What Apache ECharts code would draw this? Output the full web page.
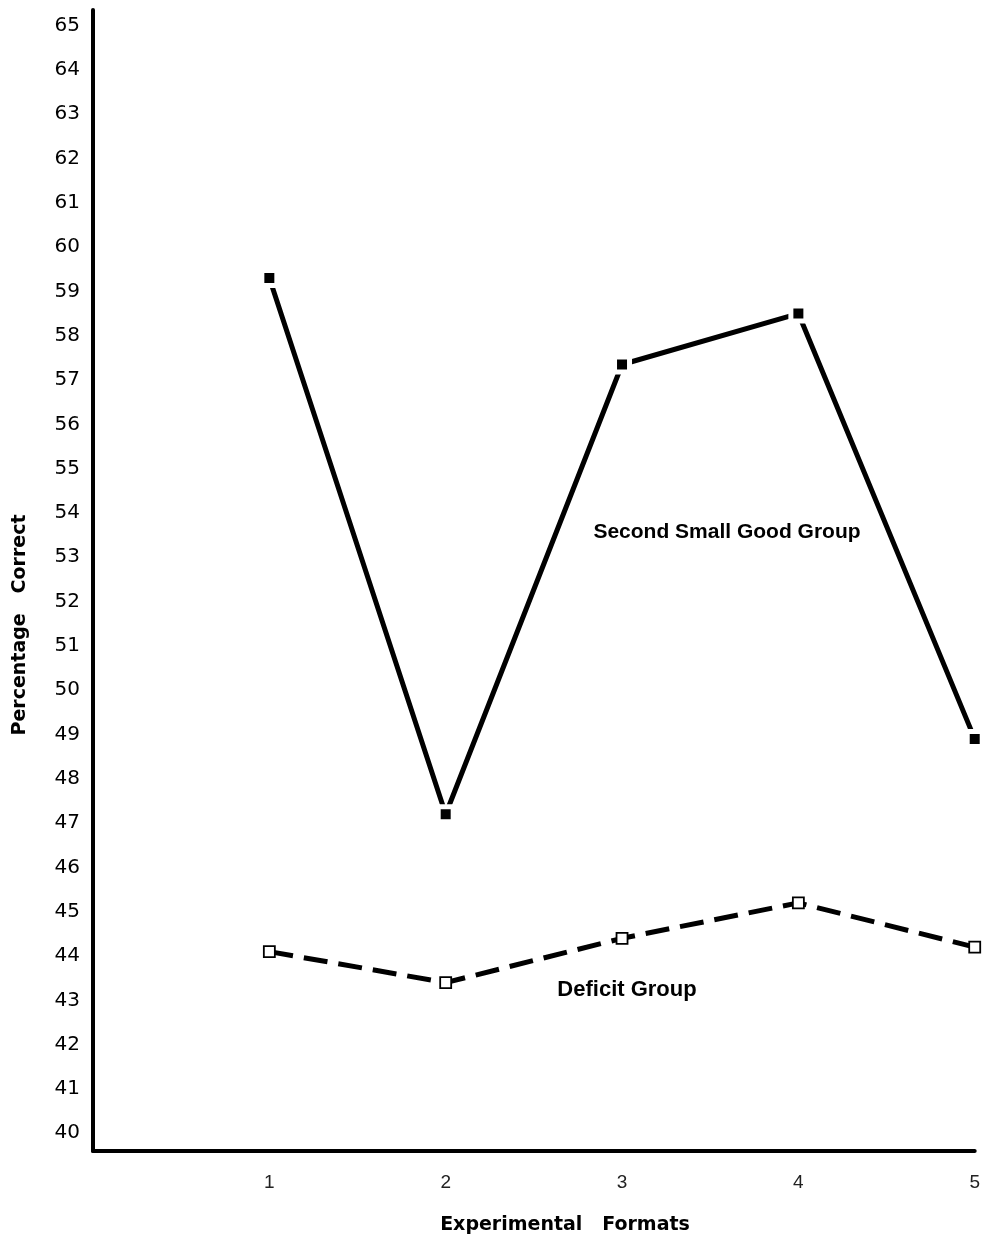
<!DOCTYPE html>
<html>
<head>
<meta charset="utf-8">
<script src="https://cdn.jsdelivr.net/npm/echarts@6/dist/echarts.min.js"></script>
<style>
html,body{margin:0;padding:0;background:#fff;}
#chart{width:983px;height:1241px;}
</style>
</head>
<body>
<div id="chart"></div>
<script>
const formats = [1, 2, 3, 4, 5];
const goodGroup = [59.3, 47.2, 57.35, 58.5, 48.9];
const deficitGroup = [44.1, 43.4, 44.4, 45.2, 44.2];
const yTicks = [40,41,42,43,44,45,46,47,48,49,50,51,52,53,54,55,56,57,58,59,60,61,62,63,64,65];
const xTicks = [1, 2, 3, 4, 5];
const goodLabel = 'Second Small Good Group';
const deficitLabel = 'Deficit Group';
const xName = 'Experimental   Formats';
const yName = 'Percentage   Correct';

const FONT = '"Liberation Sans", Arial, Helvetica, sans-serif';
const WIDE = '"DejaVu Sans", "Liberation Sans", sans-serif';
const chart = echarts.init(document.getElementById('chart'), null, {renderer: 'canvas'});

const option = {
  backgroundColor: '#fff',
  animation: false,
  grid: {left: 93, right: 8, top: 10, bottom: 90, containLabel: false},
  xAxis: {
    type: 'value',
    min: 0, max: 5,
    axisLine: {show: true, onZero: false, lineStyle: {color: '#000', width: 4}},
    axisTick: {show: false},
    splitLine: {show: false},
    axisLabel: {
      customValues: xTicks,
      color: '#222', fontFamily: FONT, fontSize: 19, margin: 22,
      formatter: v => String(v)
    }
  },
  yAxis: {
    type: 'value',
    min: 39.6, max: 65.35,
    axisLine: {show: true, onZero: false, lineStyle: {color: '#000', width: 4}},
    axisTick: {show: false},
    splitLine: {show: false},
    axisLabel: {
      customValues: yTicks,
      color: '#000', fontFamily: WIDE, fontSize: 20, margin: 13,
      formatter: v => String(Math.round(v))
    }
  },
  graphic: [
    {type: 'text', x: 565, y: 1225, style: {text: xName, font: 'bold 19px ' + WIDE, fill: '#000', textAlign: 'center', textVerticalAlign: 'middle'}},
    {type: 'text', x: 20, y: 625, rotation: Math.PI / 2, style: {text: yName, font: 'bold 19px ' + WIDE, fill: '#000', textAlign: 'center', textVerticalAlign: 'middle'}},
    {type: 'text', x: 727, y: 532, style: {text: goodLabel, font: 'bold 21px ' + FONT, fill: '#000', textAlign: 'center', textVerticalAlign: 'middle'}},
    {type: 'text', x: 627, y: 990, style: {text: deficitLabel, font: 'bold 22px ' + FONT, fill: '#000', textAlign: 'center', textVerticalAlign: 'middle'}}
  ],
  series: [
    {
      name: goodLabel,
      type: 'line',
      data: formats.map((x, i) => [x, goodGroup[i]]),
      clip: false,
      lineStyle: {color: '#000', width: 5},
      symbol: 'rect',
      symbolSize: 15,
      itemStyle: {color: '#000', borderColor: '#fff', borderWidth: 5},
      z: 3
    },
    {
      name: deficitLabel,
      type: 'line',
      data: formats.map((x, i) => [x, deficitGroup[i]]),
      clip: false,
      lineStyle: {color: '#000', width: 5, type: [24, 11]},
      symbol: 'rect',
      symbolSize: 11,
      itemStyle: {color: '#fff', borderColor: '#000', borderWidth: 1.8},
      z: 3
    }
  ]
};
chart.setOption(option);
</script>
</body>
</html>
